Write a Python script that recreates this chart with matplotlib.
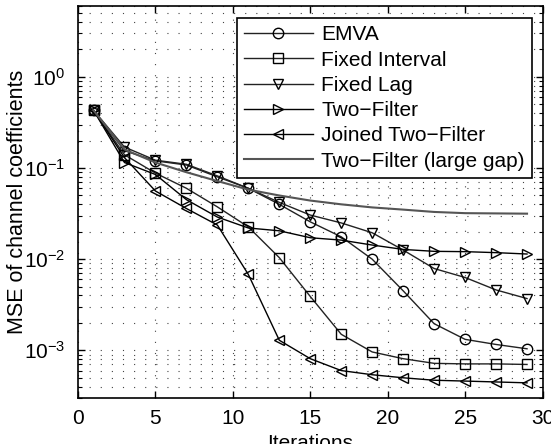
import matplotlib
matplotlib.use("Agg")
import matplotlib.pyplot as plt
from matplotlib.ticker import LogLocator, NullFormatter, FixedLocator

plt.rcParams['font.family'] = ['Liberation Sans', 'DejaVu Sans']
plt.rcParams['mathtext.fontset'] = 'custom'
plt.rcParams['mathtext.rm'] = 'Liberation Sans'
plt.rcParams['mathtext.it'] = 'Liberation Sans:italic'
plt.rcParams['mathtext.bf'] = 'Liberation Sans:bold'

iterations = [1, 3, 5, 7, 9, 11, 13, 15, 17, 19, 21, 23, 25, 27, 29]

emva = [0.43, 0.155, 0.12, 0.108, 0.080, 0.060, 0.040, 0.0257, 0.0176, 0.0100,
        0.0045, 0.00196, 0.00132, 0.00116, 0.00104]
fixed_interval = [0.43, 0.14, 0.088, 0.060, 0.0375, 0.0226, 0.0104, 0.0039, 0.0015,
                  0.00096, 0.00081, 0.00072, 0.00071, 0.00071, 0.00070]
fixed_lag = [0.43, 0.17, 0.122, 0.11, 0.082, 0.060, 0.042, 0.0305, 0.025, 0.0195,
             0.0126, 0.0079, 0.0063, 0.0046, 0.0037]
two_filter = [0.43, 0.115, 0.085, 0.045, 0.029, 0.022, 0.0205, 0.0172, 0.0162,
              0.0143, 0.0128, 0.0122, 0.0121, 0.0118, 0.0114]
joined_two_filter = [0.43, 0.13, 0.056, 0.036, 0.0237, 0.0068, 0.00129, 0.00081,
                     0.00060, 0.00054, 0.00050, 0.00047, 0.00046, 0.00045, 0.00044]
two_filter_large_gap = [0.43, 0.16, 0.115, 0.09, 0.072, 0.058, 0.050, 0.044, 0.040,
                        0.037, 0.035, 0.033, 0.032, 0.0318, 0.0316]

labels = ['EMVA', 'Fixed Interval', 'Fixed Lag', 'Two\u2212Filter',
          'Joined Two\u2212Filter', 'Two\u2212Filter (large gap)']

fig = plt.figure(figsize=(5.51, 4.44), dpi=100)
ax = fig.add_axes([0.1416, 0.1036, 0.8430, 0.8829])

fs = 15
ms = 7.5
lw = 1.0
ax.plot(iterations, emva, '-o', color='#222222', mfc='none', mec='black', ms=ms, lw=lw, label=labels[0])
ax.plot(iterations, fixed_interval, '-s', color='#222222', mfc='none', mec='black', ms=ms, lw=lw, label=labels[1])
ax.plot(iterations, fixed_lag, '-v', color='#222222', mfc='none', mec='black', ms=ms, lw=lw, label=labels[2])
ax.plot(iterations, two_filter, '->', color='black', mfc='none', mec='black', ms=ms, lw=lw, label=labels[3])
ax.plot(iterations, joined_two_filter, '-<', color='black', mfc='none', mec='black', ms=ms, lw=lw, label=labels[4])
ax.plot(iterations, two_filter_large_gap, '-', color='#555555', lw=1.5, label=labels[5])

ax.set_yscale('log')
ax.set_xlim(0, 30)
ax.set_ylim(3e-4, 6)
ax.xaxis.set_major_locator(FixedLocator([0, 5, 10, 15, 20, 25, 30]))
ax.yaxis.set_major_locator(LogLocator(base=10, numticks=10))
ax.yaxis.set_minor_locator(LogLocator(base=10, subs=range(2, 10), numticks=20))
ax.yaxis.set_minor_formatter(NullFormatter())

dot = (0, (1, 9))
ax.grid(True, which='major', axis='both', color='#444444', linestyle=dot, linewidth=0.8)
ax.grid(True, which='minor', axis='y', color='#444444', linestyle=dot, linewidth=0.8)

ax.tick_params(which='both', direction='in', top=True, right=True, labelsize=fs)
ax.tick_params(which='major', length=5, width=1)
ax.tick_params(which='minor', length=3, width=0.8)
ax.tick_params(axis='x', which='major', pad=8)
ax.tick_params(axis='y', which='major', pad=9)
for s in ax.spines.values():
    s.set_linewidth(1.2)

ax.set_xlabel('Iterations', fontsize=fs, labelpad=4)
ax.set_ylabel('MSE of channel coefficients', fontsize=15.5)
ax.yaxis.set_label_coords(-0.108, 0.5)

leg = ax.legend(loc='upper right', bbox_to_anchor=(0.977, 0.969), borderaxespad=0,
                fontsize=fs, frameon=True, fancybox=False, edgecolor='black',
                framealpha=1, handlelength=3.3, borderpad=0.35, labelspacing=0.3,
                handletextpad=0.4)
leg.get_frame().set_linewidth(1.2)

fig.savefig('out.png', dpi=100)
